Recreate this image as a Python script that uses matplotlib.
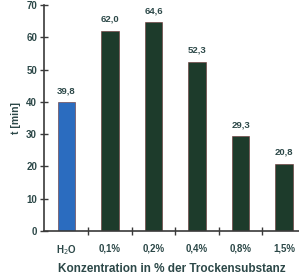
import matplotlib
matplotlib.use("Agg")
import matplotlib.pyplot as plt

categories = [r"H$_2$O", "0,1%", "0,2%", "0,4%", "0,8%", "1,5%"]
values = [39.8, 62.0, 64.6, 52.3, 29.3, 20.8]
value_labels = ["39,8", "62,0", "64,6", "52,3", "29,3", "20,8"]
colors = ["#2b6cbf", "#1d3b2b", "#1d3b2b", "#1d3b2b", "#1d3b2b", "#1d3b2b"]
yticks = [0, 10, 20, 30, 40, 50, 60, 70]

plt.rcParams['font.family'] = ['Liberation Sans', 'DejaVu Sans']
txt = "#2c4848"
axc = "#3a3a3a"

fig = plt.figure(figsize=(2.99, 2.74), dpi=100)
ax = fig.add_axes([0.147, 0.157, 0.853, 0.825])
x = list(range(len(categories)))
ax.bar(x, values, width=0.4, color=colors, edgecolor="#6a3030", linewidth=0.4, zorder=2)
for xi, v, lab in zip(x, values, value_labels):
    ax.text(xi, v + 2.2, lab, ha="center", va="bottom", fontsize=6.8, fontweight="bold", color=txt)

ax.set_xlim(-0.517, 5.34)
ax.set_ylim(0, 70)
ax.set_yticks(yticks)
ax.set_yticklabels([str(t) for t in yticks], fontsize=7, fontweight="bold", color=txt)
ax.set_xticks(x)
ax.set_xticklabels(categories, fontsize=7, fontweight="bold", color=txt)
ax.set_xticks([0.5, 1.5, 2.5, 3.5, 4.5], minor=True)
ax.tick_params(axis="x", which="major", length=0, pad=9)
ax.tick_params(axis="x", which="minor", direction="inout", length=6, width=1, color=axc)
ax.tick_params(axis="y", direction="inout", length=6, width=1, color=axc, pad=2)
for s in ["top", "right"]:
    ax.spines[s].set_visible(False)
for s in ["left", "bottom"]:
    ax.spines[s].set_color(axc)
    ax.spines[s].set_linewidth(1.2)
ax.set_ylabel("t [min]", fontsize=7.5, fontweight="bold", color=txt, labelpad=4)
ax.set_xlabel("Konzentration in % der Trockensubstanz", fontsize=8.5, fontweight="bold", color=txt, labelpad=4)
fig.savefig("out.png", dpi=100)
